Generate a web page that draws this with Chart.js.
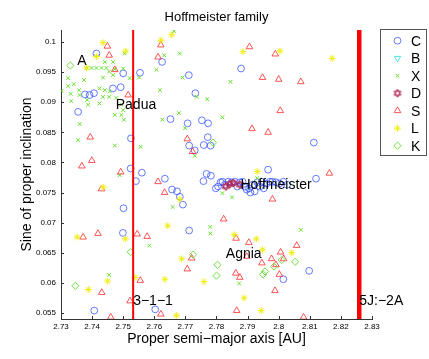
<!DOCTYPE html>
<html>
<head>
<meta charset="utf-8">
<script src="https://cdn.jsdelivr.net/npm/chart.js@4.4.0/dist/chart.umd.min.js"></script>
<style>
  html, body { margin: 0; padding: 0; background: #fff; }
</style>
</head>
<body>
<canvas id="grafico" width="429" height="359"></canvas>
<script>
// ---------------------------------------------------------------------------
// Dados (a = semi-eixo maior próprio, sinI = seno da inclinação própria)
// ---------------------------------------------------------------------------
const classes = ["C", "B", "X", "D", "S", "L", "K"];

const pontosC = [
  [2.7414,0.0981],[2.7625,0.0967],[2.7500,0.0948],[2.7554,0.0949],[2.7711,0.0945],[2.7879,0.0956],
  [2.7467,0.0923],[2.7492,0.0925],[2.7377,0.0913],[2.7392,0.0912],[2.7406,0.0915],[2.7355,0.0884],
  [2.7732,0.0915],[2.7652,0.0872],[2.7707,0.0865],[2.7753,0.0870],[2.7773,0.0865],[2.7772,0.0842],
  [2.7712,0.0828],[2.7730,0.0820],[2.7759,0.0829],[2.7781,0.0828],[2.8113,0.0833],[2.7525,0.0840],
  [2.7524,0.0790],[2.7560,0.0783],[2.7541,0.0769],[2.7634,0.0773],[2.7657,0.0755],[2.7673,0.0752],
  [2.7682,0.0743],[2.7692,0.0730],[2.7501,0.0724],[2.7712,0.0687],[2.7499,0.0683],[2.7768,0.0781],
  [2.7782,0.0778],[2.7758,0.0769],[2.7966,0.0788],[2.8120,0.0773],[2.8098,0.0620],[2.8015,0.0606],
  [2.7407,0.0554],[2.7603,0.0556],
  [2.7798,0.0757],[2.7805,0.0760],[2.7813,0.0767],[2.7819,0.0768],[2.7827,0.0763],[2.7838,0.0768],
  [2.7848,0.0767],[2.7859,0.0768],[2.7867,0.0760],[2.7875,0.0767],[2.7884,0.0768],[2.7891,0.0760],
  [2.7897,0.0755],[2.7905,0.0757],[2.7909,0.0750],[2.7916,0.0763],[2.7923,0.0752],[2.7931,0.0767],
  [2.7939,0.0760],[2.7945,0.0768],[2.7952,0.0757],[2.7961,0.0765],[2.7972,0.0768],[2.7980,0.0768],
  [2.7991,0.0767],[2.8002,0.0765],[2.8015,0.0768],[2.8027,0.0763]
];

const pontosB = [];

const pontosX = [
  [2.7663,0.1018],[2.7632,0.0978],[2.7682,0.0981],[2.7691,0.0941],[2.7607,0.0954],[2.7618,0.0920],
  [2.7736,0.0909],[2.7770,0.0905],[2.7626,0.0871],[2.7679,0.0882],[2.7699,0.0857],[2.7819,0.0875],
  [2.7845,0.0934],[2.7556,0.0826],[2.7473,0.0828],[2.7355,0.0837],[2.7360,0.0864],[2.7730,0.0811],
  [2.7819,0.0749],[2.7850,0.0742],[2.7659,0.0726],[2.7780,0.0693],[2.7780,0.0682],[2.7584,0.0662],
  [2.7873,0.0599],[2.7455,0.0613],[2.8071,0.0688],[2.7931,0.0774],[2.7489,0.0779],
  [2.7302,0.0919],[2.7323,0.0940],[2.7323,0.0927],[2.7331,0.0914],[2.7333,0.0902],[2.7341,0.0930],
  [2.7358,0.0920],[2.7360,0.0912],[2.7374,0.0937],[2.7382,0.0957],[2.7398,0.0957],[2.7414,0.0957],
  [2.7430,0.0957],[2.7446,0.0957],[2.7441,0.0967],[2.7467,0.0967],[2.7473,0.0955],[2.7455,0.0951],
  [2.7435,0.0941],[2.7467,0.0945],[2.7424,0.0923],[2.7441,0.0920],[2.7457,0.0918],[2.7435,0.0909],
  [2.7455,0.0909],[2.7424,0.0898],[2.7384,0.0904],[2.7387,0.0896],[2.7478,0.0907],[2.7494,0.0896],
  [2.7500,0.0887],[2.7494,0.0879],[2.7473,0.0879],[2.7502,0.0871],[2.7505,0.0981],[2.7500,0.0956],
  [2.7521,0.0940],[2.7551,0.0941]
];

const pontosD = [
  [2.7830,0.0760],[2.7843,0.0764],[2.7854,0.0766],[2.7875,0.0763]
];

const pontosS = [
  [2.7449,0.0993],[2.7455,0.0978],[2.7621,0.0995],[2.7612,0.0975],[2.7473,0.0954],[2.7516,0.0912],
  [2.7394,0.0842],[2.7367,0.0794],[2.7399,0.0803],[2.7492,0.0784],[2.7430,0.0756],[2.7612,0.0768],
  [2.7633,0.0750],[2.7706,0.0839],[2.7723,0.0818],[2.7906,0.0992],[2.7989,0.0980],[2.7948,0.0941],
  [2.8000,0.0938],[2.8071,0.0934],[2.8005,0.0886],[2.7914,0.0856],[2.7966,0.0850],[2.8163,0.0782],
  [2.7980,0.0739],[2.7823,0.0706],[2.7371,0.0676],[2.7419,0.0682],[2.7545,0.0681],[2.7577,0.0677],
  [2.7863,0.0674],[2.7904,0.0667],[2.8058,0.0662],[2.8006,0.0651],[2.7977,0.0640],[2.8016,0.0640],
  [2.7720,0.0641],[2.7706,0.0623],[2.7946,0.0633],[2.7991,0.0630],[2.8002,0.0614],[2.7862,0.0616],
  [2.7875,0.0609],[2.7555,0.0604],[2.7431,0.0584],[2.7988,0.0587],[2.7522,0.0570],[2.7460,0.0543],
  [2.7621,0.0548],[2.7865,0.0554],[2.8080,0.0543],[2.7897,0.0644]
];

const pontosL = [
  [2.7435,0.0999],[2.7508,0.0985],[2.7414,0.0976],[2.7382,0.0957],[2.7621,0.1003],[2.7656,0.1012],
  [2.7885,0.0984],[2.8004,0.0985],[2.8172,0.0973],[2.7436,0.0759],[2.7682,0.0739],[2.7643,0.0695],
  [2.7352,0.0676],[2.7507,0.0673],[2.7857,0.0680],[2.7928,0.0673],[2.7948,0.0655],[2.8042,0.0650],
  [2.7688,0.0640],[2.7538,0.0609],[2.7634,0.0606],[2.7450,0.0603],[2.7760,0.0602],[2.7388,0.0589],
  [2.7889,0.0575],[2.7944,0.0554],[2.7671,0.0546],[2.7931,0.0785]
];

const pontosK = [
  [2.7330,0.0961],[2.7789,0.0833],[2.7524,0.0651],[2.7725,0.0647],[2.7803,0.0630],[2.7800,0.0612],
  [2.7956,0.0619],[2.7950,0.0614],[2.7985,0.0627],[2.8010,0.0638],[2.8053,0.0635],[2.7346,0.0595]
];

// ressonâncias (linhas verticais)
const ressonanciaNomes = ["3\u22121\u22121", "5J:\u22122A"];
const ressonanciaA = [2.7532, 2.8259];

// rótulos das famílias
const familiaNomes = ["A", "Padua", "Hoffmeister", "Agnia"];
const familiaA = [2.7352, 2.7476, 2.7877, 2.7830];
const familiaSinI = [0.0968, 0.0895, 0.0763, 0.0648];

// ticks
const xTicks = [2.73, 2.74, 2.75, 2.76, 2.77, 2.78, 2.79, 2.80, 2.81, 2.82, 2.83];
const yTicks = [0.055, 0.06, 0.065, 0.07, 0.075, 0.08, 0.085, 0.09, 0.095, 0.1];

const fonte = "'Liberation Sans', Arial, Helvetica, sans-serif";

// ---------------------------------------------------------------------------
// Marcador hexagrama (classe D)
// ---------------------------------------------------------------------------
function criarHexagrama(cor) {
  const c = document.createElement("canvas");
  c.width = 10;
  c.height = 10;
  const g = c.getContext("2d");
  g.strokeStyle = cor;
  g.lineWidth = 1;
  const r = 4;
  for (let k = 0; k < 2; k++) {
    g.beginPath();
    for (let i = 0; i < 3; i++) {
      const ang = -Math.PI / 2 + k * Math.PI + i * 2 * Math.PI / 3;
      const px = 5 + r * Math.cos(ang), py = 5 + r * Math.sin(ang);
      if (i) g.lineTo(px, py); else g.moveTo(px, py);
    }
    g.closePath();
    g.stroke();
  }
  return c;
}

const estilos = {
  C: { pointStyle: "circle",   radius: 3.4, rotation: 0,   cor: "rgba(50,80,255,0.75)" },
  B: { pointStyle: "triangle", radius: 3.6, rotation: 180, cor: "rgba(40,220,220,0.8)" },
  X: { pointStyle: "crossRot", radius: 2.6, rotation: 0,   cor: "#66e030" },
  D: { pointStyle: criarHexagrama("#b3204d"), radius: 4, rotation: 0, cor: "#b3204d" },
  S: { pointStyle: "triangle", radius: 3.8, rotation: 0,   cor: "rgba(255,30,30,0.75)" },
  L: { pointStyle: "star",     radius: 3.4, rotation: 0,   cor: "#eeee10" },
  K: { pointStyle: "rectRot",  radius: 3.6, rotation: 0,   cor: "#70e040" }
};

const pontosPorClasse = { C: pontosC, B: pontosB, X: pontosX, D: pontosD, S: pontosS, L: pontosL, K: pontosK };

// ---------------------------------------------------------------------------
// Datasets
// ---------------------------------------------------------------------------
const datasets = classes.map((nome, i) => {
  const e = estilos[nome];
  return {
    label: nome,
    data: pontosPorClasse[nome].map(p => ({ x: p[0], y: p[1] })),
    pointStyle: e.pointStyle,
    pointRadius: e.radius,
    pointHoverRadius: e.radius,
    pointRotation: e.rotation,
    borderColor: e.cor,
    backgroundColor: "rgba(0,0,0,0)",
    pointBorderWidth: 1,
    order: -i
  };
});

ressonanciaA.forEach((a, i) => {
  datasets.push({
    label: ressonanciaNomes[i],
    data: [{ x: a, y: 0.054 }, { x: a, y: 0.102 }],
    showLine: true,
    pointRadius: 0,
    borderColor: "#ff0000",
    borderWidth: i === 0 ? 2 : 4.5,
    order: -20
  });
});

// ---------------------------------------------------------------------------
// Plugin: ticks internos, textos, legenda e títulos
// ---------------------------------------------------------------------------
const pluginExtras = {
  id: "extras",
  afterDatasetsDraw(chart) {
    const { ctx, chartArea, scales: { x, y } } = chart;
    ctx.save();

    // ticks para dentro
    ctx.strokeStyle = "#333";
    ctx.lineWidth = 1;
    ctx.beginPath();
    xTicks.forEach(v => {
      const px = Math.round(x.getPixelForValue(v)) + 0.5;
      ctx.moveTo(px, chartArea.bottom);
      ctx.lineTo(px, chartArea.bottom - 3);
    });
    yTicks.forEach(v => {
      const py = Math.round(y.getPixelForValue(v)) + 0.5;
      ctx.moveTo(chartArea.left, py);
      ctx.lineTo(chartArea.left + 3, py);
    });
    ctx.stroke();

    // textos dentro do gráfico
    ctx.fillStyle = "#000";
    ctx.font = "14px " + fonte;
    ctx.textAlign = "left";
    ctx.textBaseline = "middle";
    familiaNomes.forEach((t, i) => {
      ctx.fillText(t, x.getPixelForValue(familiaA[i]), y.getPixelForValue(familiaSinI[i]));
    });
    ressonanciaNomes.forEach((t, i) => {
      ctx.fillText(t, x.getPixelForValue(ressonanciaA[i]), y.getPixelForValue(0.0569));
    });

    // título e rótulos dos eixos
    const cx = (chartArea.left + chartArea.right) / 2;
    ctx.textAlign = "center";
    ctx.font = "13px " + fonte;
    ctx.fillText("Hoffmeister family", cx, 17);
    ctx.font = "14px " + fonte;
    ctx.fillText("Proper semi\u2212major axis [AU]", cx, 339);
    ctx.save();
    ctx.translate(27, (chartArea.top + chartArea.bottom) / 2);
    ctx.rotate(-Math.PI / 2);
    ctx.fillText("Sine of proper inclination", 0, 0);
    ctx.restore();

    // legenda
    const lx = 380.5, ly = 29.5, lw = 46, lh = 126;
    ctx.fillStyle = "#fff";
    ctx.fillRect(lx, ly, lw, lh);
    ctx.strokeStyle = "#555";
    ctx.strokeRect(lx, ly, lw, lh);
    classes.forEach((nome, i) => {
      const e = estilos[nome];
      const my = 40.7 + i * 17.5;
      ctx.strokeStyle = e.cor;
      ctx.fillStyle = "rgba(0,0,0,0)";
      ctx.lineWidth = 1;
      Chart.helpers.drawPoint(ctx, {
        pointStyle: e.pointStyle, radius: e.radius, rotation: e.rotation, borderWidth: 1
      }, 397.5, my);
      ctx.fillStyle = "#000";
      ctx.font = "14px " + fonte;
      ctx.textAlign = "left";
      ctx.textBaseline = "middle";
      ctx.fillText(nome, 411, my + 1);
    });

    ctx.restore();
  }
};

// ---------------------------------------------------------------------------
// Gráfico
// ---------------------------------------------------------------------------
const ctxGrafico = document.getElementById("grafico").getContext("2d");

new Chart(ctxGrafico, {
  type: "scatter",
  data: { datasets },
  options: {
    responsive: false,
    animation: false,
    devicePixelRatio: 1,
    layout: { padding: { top: 30, right: 57, left: 0, bottom: 0 } },
    plugins: {
      legend: { display: false },
      tooltip: { enabled: false }
    },
    scales: {
      x: {
        type: "linear",
        min: 2.73,
        max: 2.83,
        afterBuildTicks: s => { s.ticks = xTicks.map(v => ({ value: v })); },
        afterFit: s => { s.height = 40; },
        ticks: {
          autoSkip: false,
          maxRotation: 0,
          padding: 3,
          color: "#000",
          font: { family: fonte, size: 8 },
          callback: v => String(parseFloat(Number(v).toFixed(3)))
        },
        grid: { display: false, drawTicks: false },
        border: { color: "#333", width: 1 }
      },
      y: {
        type: "linear",
        min: 0.054,
        max: 0.102,
        afterBuildTicks: s => { s.ticks = yTicks.map(v => ({ value: v })); },
        afterFit: s => { s.width = 61; },
        ticks: {
          autoSkip: false,
          padding: 5,
          color: "#000",
          font: { family: fonte, size: 8 },
          callback: v => String(parseFloat(Number(v).toFixed(4)))
        },
        grid: { display: false, drawTicks: false },
        border: { color: "#333", width: 1 }
      }
    }
  },
  plugins: [pluginExtras]
});
</script>
</body>
</html>
